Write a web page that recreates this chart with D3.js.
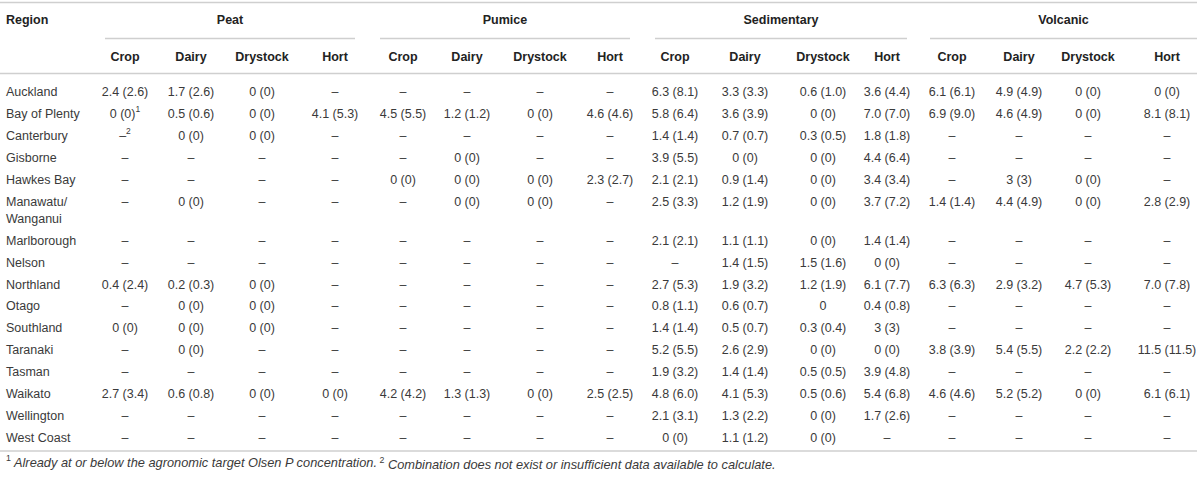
<!DOCTYPE html>
<html>
<head>
<meta charset="utf-8">
<script src="https://cdn.jsdelivr.net/npm/d3@7"></script>
<style>
  body { margin: 0; background: #fff; }
  text { font-family: "Liberation Sans", Arial, sans-serif; }
</style>
</head>
<body>
<script>
const regions = ["Auckland", "Bay of Plenty", "Canterbury", "Gisborne", "Hawkes Bay", "Manawatu/|Wanganui",
  "Marlborough", "Nelson", "Northland", "Otago", "Southland", "Taranaki", "Tasman", "Waikato", "Wellington", "West Coast"];
const soils = ["Peat", "Pumice", "Sedimentary", "Volcanic"];
const landUses = ["Crop", "Dairy", "Drystock", "Hort"];

// one row per region, Crop / Dairy / Drystock / Hort
const peat = [
  ["2.4 (2.6)", "1.7 (2.6)", "0 (0)", "–"],
  ["0 (0)", "0.5 (0.6)", "0 (0)", "4.1 (5.3)"],
  ["–", "0 (0)", "0 (0)", "–"],
  ["–", "–", "–", "–"],
  ["–", "–", "–", "–"],
  ["–", "0 (0)", "–", "–"],
  ["–", "–", "–", "–"],
  ["–", "–", "–", "–"],
  ["0.4 (2.4)", "0.2 (0.3)", "0 (0)", "–"],
  ["–", "0 (0)", "0 (0)", "–"],
  ["0 (0)", "0 (0)", "0 (0)", "–"],
  ["–", "0 (0)", "–", "–"],
  ["–", "–", "–", "–"],
  ["2.7 (3.4)", "0.6 (0.8)", "0 (0)", "0 (0)"],
  ["–", "–", "–", "–"],
  ["–", "–", "–", "–"]
];
const pumice = [
  ["–", "–", "–", "–"],
  ["4.5 (5.5)", "1.2 (1.2)", "0 (0)", "4.6 (4.6)"],
  ["–", "–", "–", "–"],
  ["–", "0 (0)", "–", "–"],
  ["0 (0)", "0 (0)", "0 (0)", "2.3 (2.7)"],
  ["–", "0 (0)", "0 (0)", "–"],
  ["–", "–", "–", "–"],
  ["–", "–", "–", "–"],
  ["–", "–", "–", "–"],
  ["–", "–", "–", "–"],
  ["–", "–", "–", "–"],
  ["–", "–", "–", "–"],
  ["–", "–", "–", "–"],
  ["4.2 (4.2)", "1.3 (1.3)", "0 (0)", "2.5 (2.5)"],
  ["–", "–", "–", "–"],
  ["–", "–", "–", "–"]
];
const sedimentary = [
  ["6.3 (8.1)", "3.3 (3.3)", "0.6 (1.0)", "3.6 (4.4)"],
  ["5.8 (6.4)", "3.6 (3.9)", "0 (0)", "7.0 (7.0)"],
  ["1.4 (1.4)", "0.7 (0.7)", "0.3 (0.5)", "1.8 (1.8)"],
  ["3.9 (5.5)", "0 (0)", "0 (0)", "4.4 (6.4)"],
  ["2.1 (2.1)", "0.9 (1.4)", "0 (0)", "3.4 (3.4)"],
  ["2.5 (3.3)", "1.2 (1.9)", "0 (0)", "3.7 (7.2)"],
  ["2.1 (2.1)", "1.1 (1.1)", "0 (0)", "1.4 (1.4)"],
  ["–", "1.4 (1.5)", "1.5 (1.6)", "0 (0)"],
  ["2.7 (5.3)", "1.9 (3.2)", "1.2 (1.9)", "6.1 (7.7)"],
  ["0.8 (1.1)", "0.6 (0.7)", "0", "0.4 (0.8)"],
  ["1.4 (1.4)", "0.5 (0.7)", "0.3 (0.4)", "3 (3)"],
  ["5.2 (5.5)", "2.6 (2.9)", "0 (0)", "0 (0)"],
  ["1.9 (3.2)", "1.4 (1.4)", "0.5 (0.5)", "3.9 (4.8)"],
  ["4.8 (6.0)", "4.1 (5.3)", "0.5 (0.6)", "5.4 (6.8)"],
  ["2.1 (3.1)", "1.3 (2.2)", "0 (0)", "1.7 (2.6)"],
  ["0 (0)", "1.1 (1.2)", "0 (0)", "–"]
];
const volcanic = [
  ["6.1 (6.1)", "4.9 (4.9)", "0 (0)", "0 (0)"],
  ["6.9 (9.0)", "4.6 (4.9)", "0 (0)", "8.1 (8.1)"],
  ["–", "–", "–", "–"],
  ["–", "–", "–", "–"],
  ["–", "3 (3)", "0 (0)", "–"],
  ["1.4 (1.4)", "4.4 (4.9)", "0 (0)", "2.8 (2.9)"],
  ["–", "–", "–", "–"],
  ["–", "–", "–", "–"],
  ["6.3 (6.3)", "2.9 (3.2)", "4.7 (5.3)", "7.0 (7.8)"],
  ["–", "–", "–", "–"],
  ["–", "–", "–", "–"],
  ["3.8 (3.9)", "5.4 (5.5)", "2.2 (2.2)", "11.5 (11.5)"],
  ["–", "–", "–", "–"],
  ["4.6 (4.6)", "5.2 (5.2)", "0 (0)", "6.1 (6.1)"],
  ["–", "–", "–", "–"],
  ["–", "–", "–", "–"]
];
const cellNotes = [
  { region: "Bay of Plenty", soil: "Peat", use: "Crop", mark: "1" },
  { region: "Canterbury", soil: "Peat", use: "Crop", mark: "2" }
];
const footnotes = [
  { mark: "1", text: "Already at or below the agronomic target Olsen P concentration." },
  { mark: "2", text: "Combination does not exist or insufficient data available to calculate." }
];

// layout
const width = 1200, height = 478;
const colX = [125, 191, 262, 335, 403, 467, 540, 610, 675, 745, 823, 887, 952, 1019, 1088, 1167];
const groupSpan = [[105, 355], [380, 630], [655, 907], [930, 1197]];
const rowH = 21.9, lineH = 17, bodyTop = 81;
const lineColor = "#cfcfcf";
const textColor = "#3a3a3a";

const tables = [peat, pumice, sedimentary, volcanic];
const colKeys = soils.flatMap(s => landUses.map(u => s + "|" + u));
const x = d3.scaleOrdinal().domain(colKeys).range(colX);
const gx = d3.scaleOrdinal().domain(soils).range(groupSpan.map(s => (s[0] + s[1]) / 2));

const lines = regions.map(r => r.split("|"));
const heights = lines.map(l => rowH + (l.length - 1) * lineH);
const tops = [bodyTop].concat(Array.from(d3.cumsum(heights)).map(v => bodyTop + v));
const y = d3.scaleOrdinal().domain(regions).range(regions.map((r, i) => tops[i] + rowH / 2));

const svg = d3.select("body").append("svg")
    .attr("width", width).attr("height", height);
svg.append("rect").attr("width", width).attr("height", height).attr("fill", "#fff");

// rules
const rules = [2.5, 73.5, 451];
svg.selectAll(".rule").data(rules).enter().append("line")
    .attr("x1", 0).attr("x2", 1197)
    .attr("y1", d => d).attr("y2", d => d)
    .attr("stroke", lineColor).attr("stroke-width", 1.3);

svg.selectAll(".gline").data(soils).enter().append("line")
    .attr("x1", (d, i) => groupSpan[i][0]).attr("x2", (d, i) => groupSpan[i][1])
    .attr("y1", 38.5).attr("y2", 38.5)
    .attr("stroke", lineColor).attr("stroke-width", 1.3);

// headers
const head = svg.append("g")
    .attr("font-size", 12.5).attr("font-weight", "bold").attr("fill", "#222");
head.append("text").attr("x", 6).attr("y", 20).attr("dy", "0.35em").text("Region");
head.selectAll(".soil").data(soils).enter().append("text")
    .attr("x", d => gx(d)).attr("y", 20).attr("dy", "0.35em")
    .attr("text-anchor", "middle").text(d => d);
head.selectAll(".use").data(colKeys).enter().append("text")
    .attr("x", d => x(d)).attr("y", 57).attr("dy", "0.35em")
    .attr("text-anchor", "middle").text(d => d.split("|")[1]);

// body
const body = svg.append("g").attr("font-size", 12.5).attr("fill", textColor);
body.selectAll(".region").data(regions).enter().append("text")
    .each(function(d) {
      const parts = d.split("|");
      d3.select(this).selectAll("tspan").data(parts).enter().append("tspan")
        .attr("x", 6).attr("y", (p, i) => y(d) + 4.4 + i * lineH)
        .text(p => p);
    });

const cells = [];
tables.forEach((t, si) => t.forEach((row, ri) => row.forEach((v, ui) => {
  cells.push({ region: regions[ri], soil: soils[si], use: landUses[ui], value: v });
})));

body.selectAll(".cell").data(cells).enter().append("text")
    .attr("x", d => x(d.soil + "|" + d.use))
    .attr("y", d => y(d.region)).attr("dy", "0.35em")
    .attr("text-anchor", "middle")
    .each(function(d) {
      const note = cellNotes.find(n => n.region === d.region && n.soil === d.soil && n.use === d.use);
      const t = d3.select(this);
      t.append("tspan").text(d.value);
      if (note) t.append("tspan").attr("font-size", 8.5).attr("dy", "-0.75em").text(note.mark);
    });

// footnote
const foot = svg.append("text").attr("x", 6).attr("y", 465).attr("dy", "0.35em")
    .attr("font-size", 12.8).attr("fill", textColor);
footnotes.forEach((f, i) => {
  foot.append("tspan").attr("font-size", 8.8).attr("dy", "-0.5em")
    .text((i === 0 ? "" : " ") + f.mark);
  foot.append("tspan").attr("font-style", "italic").attr("dy", "0.5em").text(" " + f.text);
});
</script>
</body>
</html>
